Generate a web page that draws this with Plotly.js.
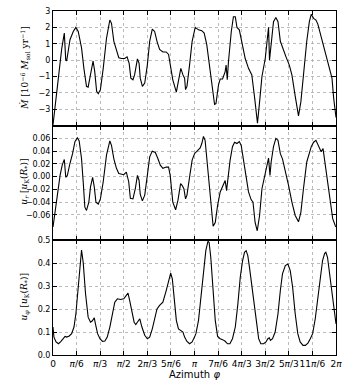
<!DOCTYPE html>
<html>
<head>
<meta charset="utf-8">
<script src="https://cdn.plot.ly/plotly-3.0.1.min.js"></script>
<style>
  html, body { margin: 0; padding: 0; background: #fff; }
  #chart { width: 347px; height: 389px; }
</style>
</head>
<body>
<div id="chart"></div>
<script>
// azimuth samples are given in units of pi/6
const mdotPhi = [0, 0.08, 0.23, 0.37, 0.48, 0.54, 0.58, 0.72, 0.86, 0.97, 1.07, 1.21, 1.31, 1.42, 1.49, 1.59, 1.70, 1.77, 1.85, 1.92,
  2.01, 2.13, 2.27, 2.41, 2.48, 2.58, 2.69, 2.79, 2.90, 3.04, 3.14, 3.23, 3.30, 3.39, 3.46, 3.58, 3.65, 3.70, 3.79, 3.89,
  4.00, 4.10, 4.21, 4.31, 4.41, 4.52, 4.66, 4.80, 4.90, 4.97, 5.08, 5.23, 5.34, 5.42, 5.51, 5.58, 5.62, 5.68, 5.79, 5.90,
  6.03, 6.17, 6.31, 6.41, 6.52, 6.62, 6.74, 6.85, 6.91, 7.02, 7.09, 7.19, 7.30, 7.34, 7.39, 7.44, 7.56, 7.65, 7.73, 7.80,
  7.90, 8.01, 8.15, 8.29, 8.43, 8.55, 8.67, 8.76, 8.86, 9.00, 9.11, 9.14, 9.18, 9.24, 9.35, 9.45, 9.54, 9.64, 9.73, 9.88,
  10.02, 10.13, 10.27, 10.41, 10.51, 10.62, 10.76, 10.87, 10.95, 11.05, 11.15, 11.23, 11.33, 11.43, 11.52, 11.62, 11.73, 11.83, 11.90, 12.0];
const mdotVal = [-3.95, -2.9, -0.9, 0.7, 1.65, 0.0, -0.05, 1.25, 1.75, 2.0, 1.75, 0.75, -0.5, -1.6, -1.65, -0.9, -0.05, -0.7, -1.9, -2.05,
  -1.8, -0.5, 1.35, 2.45, 2.25, 1.15, 0.65, 0.15, 0.1, 0.1, 0.2, -0.2, -1.1, -1.2, -0.9, 0.08, -0.2, -1.1, -1.6, -1.4,
  -0.3, 1.15, 1.9, 1.75, 1.15, 0.65, 0.5, 0.5, 0.35, -0.2, -1.2, -1.95, -1.2, -0.5, -0.9, -1.1, -1.8, -1.6, -0.3, 1.15,
  2.0, 1.85, 1.8, 1.65, 0.95, -0.1, -1.3, -2.7, -2.65, -1.5, -1.15, -1.15, -0.7, -0.3, -1.2, -0.1, 1.75, 2.65, 2.65, 2.0,
  1.85, 1.15, 0.1, -0.5, -0.9, -2.3, -3.85, -2.55, -1.0, 0.1, 1.95, 2.0, 0.0, 0.95, 2.35, 2.6, 2.35, 1.15, 0.75, 0.2,
  -0.3, -0.9, -2.2, -3.4, -2.55, -0.9, 1.15, 2.35, 2.8, 2.55, 2.45, 2.2, 1.65, 1.15, 0.65, 0.2, -0.4, -1.1, -2.3, -3.5];

const urPhi = [0, 0.08, 0.18, 0.30, 0.39, 0.48, 0.54, 0.61, 0.72, 0.83, 0.93, 1.03, 1.11, 1.21, 1.28, 1.35, 1.42, 1.52, 1.59, 1.68,
  1.75, 1.82, 1.92, 2.01, 2.13, 2.27, 2.41, 2.48, 2.58, 2.69, 2.79, 2.90, 3.00, 3.11, 3.21, 3.28, 3.39, 3.49, 3.58, 3.65,
  3.70, 3.79, 3.89, 4.00, 4.10, 4.21, 4.34, 4.45, 4.55, 4.66, 4.80, 4.90, 4.97, 5.08, 5.20, 5.30, 5.41, 5.48, 5.55, 5.62,
  5.68, 5.79, 5.90, 6.00, 6.14, 6.24, 6.31, 6.38, 6.45, 6.52, 6.62, 6.71, 6.79, 6.88, 6.98, 7.09, 7.19, 7.30, 7.36, 7.41,
  7.51, 7.61, 7.70, 7.80, 7.90, 7.98, 8.08, 8.18, 8.29, 8.40, 8.48, 8.57, 8.66, 8.76, 8.86, 8.97, 9.07, 9.14, 9.20, 9.25,
  9.35, 9.45, 9.54, 9.64, 9.73, 9.85, 9.99, 10.13, 10.27, 10.41, 10.51, 10.62, 10.76, 10.95, 11.05, 11.15, 11.26, 11.33, 11.37, 11.45,
  11.54, 11.66, 11.77, 11.86, 11.97, 12.0];
const urVal = [-0.079, -0.056, -0.024, 0.002, 0.018, 0.027, -0.001, 0.002, 0.021, 0.036, 0.055, 0.061, 0.056, 0.028, -0.008, -0.048, -0.053, -0.040, -0.016, -0.001,
  -0.016, -0.040, -0.043, -0.035, -0.008, 0.034, 0.056, 0.049, 0.028, 0.013, 0.005, 0.004, 0.003, 0.007, -0.008, -0.034, -0.035, -0.019, 0.002, -0.006,
  -0.028, -0.038, -0.029, 0.002, 0.031, 0.040, 0.038, 0.028, 0.018, 0.013, 0.015, 0.015, 0.002, -0.040, -0.052, -0.037, -0.011, -0.014, -0.019, -0.035,
  -0.029, -0.001, 0.026, 0.036, 0.042, 0.045, 0.052, 0.063, 0.057, 0.028, -0.014, -0.051, -0.078, -0.072, -0.045, -0.024, -0.016, -0.006, -0.022, -0.003,
  0.026, 0.047, 0.054, 0.052, 0.055, 0.049, 0.028, 0.002, -0.024, -0.036, -0.040, -0.072, -0.085, -0.061, -0.019, -0.001, 0.018, 0.029, 0.002, 0.023,
  0.047, 0.060, 0.057, 0.036, 0.028, 0.010, -0.014, -0.040, -0.061, -0.071, -0.056, -0.019, 0.023, 0.047, 0.054, 0.057, 0.049, 0.042, 0.039, 0.044,
  0.018, -0.014, -0.040, -0.066, -0.077, -0.079];

const uphiPhi = [0, 0.04, 0.13, 0.23, 0.32, 0.44, 0.51, 0.58, 0.69, 0.79, 0.89, 0.97, 1.07, 1.14, 1.21, 1.28, 1.38, 1.49, 1.59, 1.66,
  1.75, 1.80, 1.89, 1.99, 2.10, 2.20, 2.30, 2.41, 2.52, 2.62, 2.73, 2.86, 3.00, 3.11, 3.18, 3.25, 3.35, 3.44, 3.51, 3.58,
  3.68, 3.77, 3.89, 4.00, 4.10, 4.21, 4.31, 4.41, 4.52, 4.66, 4.80, 4.92, 4.99, 5.06, 5.15, 5.23, 5.32, 5.41, 5.51, 5.58,
  5.68, 5.79, 5.90, 6.00, 6.06, 6.17, 6.28, 6.38, 6.48, 6.57, 6.62, 6.69, 6.78, 6.88, 6.98, 7.09, 7.19, 7.29, 7.40, 7.50,
  7.61, 7.73, 7.84, 7.94, 8.04, 8.12, 8.19, 8.26, 8.33, 8.43, 8.55, 8.64, 8.72, 8.81, 8.93, 9.03, 9.11, 9.17, 9.22, 9.31,
  9.42, 9.54, 9.64, 9.73, 9.85, 9.96, 10.06, 10.16, 10.27, 10.38, 10.48, 10.60, 10.70, 10.81, 10.91, 11.01, 11.12, 11.22, 11.33, 11.43,
  11.52, 11.57, 11.64, 11.74, 11.84, 11.93, 12.0];
const uphiVal = [0.122, 0.078, 0.057, 0.049, 0.057, 0.071, 0.081, 0.078, 0.083, 0.093, 0.122, 0.180, 0.296, 0.397, 0.458, 0.404, 0.267, 0.165, 0.143, 0.148,
  0.162, 0.136, 0.093, 0.071, 0.059, 0.061, 0.078, 0.122, 0.187, 0.230, 0.245, 0.242, 0.245, 0.259, 0.270, 0.238, 0.180, 0.143, 0.133, 0.143,
  0.158, 0.122, 0.086, 0.071, 0.078, 0.114, 0.165, 0.201, 0.216, 0.230, 0.281, 0.332, 0.357, 0.332, 0.223, 0.151, 0.114, 0.107, 0.100, 0.078,
  0.059, 0.049, 0.057, 0.078, 0.093, 0.151, 0.252, 0.368, 0.455, 0.496, 0.491, 0.426, 0.296, 0.151, 0.081, 0.071, 0.067, 0.061, 0.049, 0.049,
  0.071, 0.122, 0.223, 0.339, 0.412, 0.448, 0.455, 0.433, 0.383, 0.310, 0.223, 0.136, 0.071, 0.049, 0.049, 0.057, 0.071, 0.075, 0.064, 0.071,
  0.100, 0.180, 0.281, 0.354, 0.390, 0.397, 0.368, 0.296, 0.180, 0.093, 0.057, 0.042, 0.042, 0.052, 0.071, 0.093, 0.158, 0.238, 0.339, 0.412,
  0.443, 0.448, 0.426, 0.339, 0.252, 0.187, 0.136];

const piTickText = ['0', 'π/6', 'π/3', 'π/2', '2π/3', '5π/6', 'π', '7π/6', '4π/3', '3π/2', '5π/3', '11π/6', '2π'];
const mdotTicks = [-3, -2, -1, 0, 1, 2, 3];
const mdotTickText = ['−3', '−2', '−1', '0', '1', '2', '3'];
const urTicks = [-0.06, -0.04, -0.02, 0, 0.02, 0.04, 0.06];
const urTickText = ['−0.06', '−0.04', '−0.02', '0.00', '0.02', '0.04', '0.06'];
const uphiTicks = [0, 0.1, 0.2, 0.3, 0.4, 0.5];
const uphiTickText = ['0.0', '0.1', '0.2', '0.3', '0.4', '0.5'];

const toRad = arr => arr.map(v => v * Math.PI / 6);
const piTicks = piTickText.map((_, i) => i * Math.PI / 6);
const piLabels = piTickText.map(t => t.replace('π', '<i>π</i>'));

const lineStyle = { color: '#000', width: 1.1 };

const traces = [
  { x: toRad(mdotPhi), y: mdotVal, xaxis: 'x', yaxis: 'y', type: 'scatter', mode: 'lines', line: lineStyle },
  { x: toRad(urPhi), y: urVal, xaxis: 'x2', yaxis: 'y2', type: 'scatter', mode: 'lines', line: lineStyle },
  { x: toRad(uphiPhi), y: uphiVal, xaxis: 'x3', yaxis: 'y3', type: 'scatter', mode: 'lines', line: lineStyle }
];

const common = {
  ticks: 'inside',
  ticklen: 4,
  tickcolor: '#000',
  showline: true,
  linecolor: '#000',
  linewidth: 1,
  mirror: 'ticks',
  showgrid: true,
  gridcolor: '#aaa',
  griddash: 'dot',
  gridwidth: 0.8,
  zeroline: false
};

const baseX = Object.assign({}, common, {
  range: [0, 2 * Math.PI],
  tickvals: piTicks,
  ticktext: piLabels,
  tickangle: 0,
  tickfont: { family: 'DejaVu Sans', size: 9, color: '#000' }
});

const baseY = Object.assign({}, common, {
  tickfont: { family: 'DejaVu Sans', size: 8, color: '#000' }
});

const titleFont = { family: 'DejaVu Serif', size: 9, color: '#000' };

const layout = {
  width: 347,
  height: 389,
  margin: { l: 53, r: 11, t: 11, b: 34 },
  paper_bgcolor: '#fff',
  plot_bgcolor: '#fff',
  showlegend: false,
  xaxis: Object.assign({}, baseX, { anchor: 'y', showticklabels: false }),
  xaxis2: Object.assign({}, baseX, { anchor: 'y2', matches: 'x', showticklabels: false }),
  xaxis3: Object.assign({}, baseX, {
    anchor: 'y3', matches: 'x',
    title: { text: 'Azimuth <i>φ</i>', font: { family: 'DejaVu Sans', size: 10, color: '#000' }, standoff: 3 }
  }),
  yaxis: Object.assign({}, baseY, { domain: [2 / 3, 1], range: [-4, 3], tickvals: mdotTicks, ticktext: mdotTickText }),
  yaxis2: Object.assign({}, baseY, { domain: [1 / 3, 2 / 3], range: [-0.1, 0.08], tickvals: urTicks, ticktext: urTickText }),
  yaxis3: Object.assign({}, baseY, { domain: [0, 1 / 3], range: [0, 0.5], tickvals: uphiTicks, ticktext: uphiTickText }),
  annotations: [
    {
      text: '<i>Ṁ</i> [10<sup>−6</sup> <i>M</i><sub>sol</sub> yr<sup>−1</sup>]',
      xref: 'paper', yref: 'paper', x: -0.1, y: 0.834, textangle: -90,
      showarrow: false, xanchor: 'center', yanchor: 'middle', font: titleFont
    },
    {
      text: '<i>u<sub>r</sub></i> [<i>u</i><sub>K</sub>(<i>R</i><sub>*</sub>)]',
      xref: 'paper', yref: 'paper', x: -0.1, y: 0.503, textangle: -90,
      showarrow: false, xanchor: 'center', yanchor: 'middle', font: titleFont
    },
    {
      text: '<i>u<sub>φ</sub></i> [<i>u</i><sub>K</sub>(<i>R</i><sub>*</sub>)]',
      xref: 'paper', yref: 'paper', x: -0.1, y: 0.169, textangle: -90,
      showarrow: false, xanchor: 'center', yanchor: 'middle', font: titleFont
    }
  ]
};

Plotly.newPlot('chart', traces, layout, { staticPlot: true, displayModeBar: false });
</script>
</body>
</html>
